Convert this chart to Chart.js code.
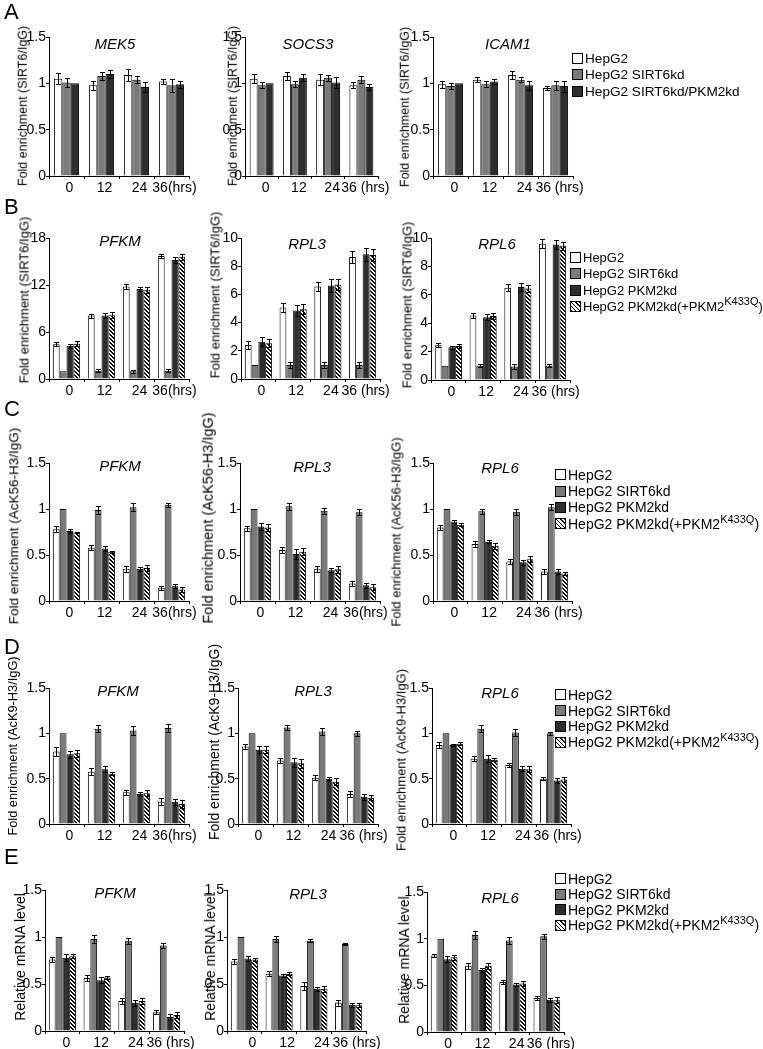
<!DOCTYPE html>
<html>
<head>
<meta charset="utf-8">
<script src="https://cdn.jsdelivr.net/npm/chart.js@4.4.1/dist/chart.umd.min.js"></script>
<style>
  html, body { margin: 0; padding: 0; background: #fff; }
  #fig { position: relative; width: 763px; height: 1049px; overflow: hidden;
         font-family: 'Liberation Sans', Arial, sans-serif; color: #000; }
  .cv { position: absolute; }
  .letter { position: absolute; font-size: 22px; line-height: 1; }
  .gene { position: absolute; font-style: italic; font-size: 15px; line-height: 1;
          transform: translate(-50%, -50%); white-space: nowrap; }
  .ytitle { position: absolute; line-height: 1; white-space: nowrap;
            transform: translate(-50%, -50%) rotate(-90deg); }
  .legend { position: absolute; }
  .legend .row { display: flex; align-items: center; white-space: nowrap; }
  .sw { width: 11px; height: 11px; border: 1px solid #000; box-sizing: border-box; margin-right: 2px; flex: none; }
  sup { font-size: 11px; line-height: 0; vertical-align: 6px; }
</style>
</head>
<body>
<div id="fig"></div>
<script>
// time points on the x axis
const timepoints = ['0', '12', '24', '36'];

const seriesA = ['HepG2', 'HepG2 SIRT6kd', 'HepG2 SIRT6kd/PKM2kd'];
const seriesBE = ['HepG2', 'HepG2 SIRT6kd', 'HepG2 PKM2kd', 'HepG2 PKM2kd(+PKM2<sup>K433Q</sup>)'];

// A: SIRT6 ChIP, control genes (HepG2, SIRT6kd, SIRT6kd/PKM2kd)
const mek5Mean = [[1.05, 0.98, 1.09, 1.02], [1.01, 1.08, 1.04, 0.98], [1.00, 1.10, 0.96, 0.99]];
const mek5Err  = [[0.06, 0.05, 0.06, 0.03], [0.05, 0.04, 0.04, 0.07], [0, 0.04, 0.05, 0.04]];
const socs3Mean = [[1.05, 1.08, 1.04, 0.98], [0.98, 0.99, 1.06, 1.04], [1.00, 1.06, 1.01, 0.96]];
const socs3Err  = [[0.05, 0.04, 0.06, 0.03], [0.03, 0.03, 0.03, 0.04], [0, 0.04, 0.06, 0.03]];
const icam1Mean = [[0.99, 1.04, 1.09, 0.95], [0.97, 0.99, 1.04, 0.98], [1.00, 1.02, 0.98, 0.97]];
const icam1Err  = [[0.04, 0.03, 0.04, 0.02], [0.03, 0.03, 0.03, 0.05], [0, 0.03, 0.05, 0.06]];

// B: SIRT6 ChIP
const bPfkmMean = [[4.45, 8.1, 11.8, 15.7], [1.0, 1.05, 1.0, 1.05], [4.2, 8.1, 11.5, 15.2], [4.5, 8.15, 11.4, 15.6]];
const bPfkmErr  = [[0.25, 0.25, 0.35, 0.25], [0, 0.2, 0.2, 0.2], [0.3, 0.35, 0.3, 0.35], [0.3, 0.4, 0.4, 0.4]];
const bRpl3Mean = [[2.42, 5.07, 6.56, 8.65], [1.0, 1.0, 1.0, 1.0], [2.65, 4.85, 6.63, 8.85], [2.54, 4.95, 6.7, 8.8]];
const bRpl3Err  = [[0.3, 0.3, 0.3, 0.4], [0, 0.2, 0.2, 0.2], [0.3, 0.4, 0.45, 0.45], [0.3, 0.35, 0.4, 0.4]];
const bRpl6Mean = [[2.45, 4.55, 6.5, 9.6], [1.0, 1.0, 0.95, 1.0], [2.3, 4.42, 6.55, 9.55], [2.4, 4.5, 6.45, 9.45]];
const bRpl6Err  = [[0.15, 0.2, 0.25, 0.3], [0, 0.1, 0.15, 0.1], [0.1, 0.2, 0.3, 0.3], [0.15, 0.2, 0.25, 0.3]];

// C: AcK56-H3 ChIP
const cPfkmMean = [[0.78, 0.58, 0.35, 0.145], [1.0, 0.99, 1.02, 1.045], [0.76, 0.57, 0.35, 0.16], [0.745, 0.535, 0.36, 0.125]];
const cPfkmErr  = [[0.03, 0.03, 0.03, 0.02], [0, 0.04, 0.04, 0.02], [0.02, 0.03, 0.02, 0.02], [0.01, 0.01, 0.03, 0.03]];
const cRpl3Mean = [[0.79, 0.555, 0.35, 0.19], [1.0, 1.03, 0.98, 0.965], [0.81, 0.51, 0.335, 0.17], [0.80, 0.535, 0.345, 0.15]];
const cRpl3Err  = [[0.03, 0.03, 0.03, 0.03], [0, 0.04, 0.03, 0.03], [0.04, 0.05, 0.02, 0.03], [0.04, 0.04, 0.04, 0.03]];
const cRpl6Mean = [[0.80, 0.62, 0.43, 0.32], [1.0, 0.975, 0.97, 1.02], [0.865, 0.645, 0.42, 0.32], [0.83, 0.60, 0.455, 0.30]];
const cRpl6Err  = [[0.03, 0.03, 0.03, 0.025], [0, 0.03, 0.03, 0.03], [0.015, 0.02, 0.03, 0.025], [0.02, 0.03, 0.03, 0.015]];

// D: AcK9-H3 ChIP
const dPfkmMean = [[0.80, 0.575, 0.35, 0.245], [1.0, 1.05, 1.03, 1.06], [0.77, 0.605, 0.33, 0.245], [0.78, 0.555, 0.34, 0.22]];
const dPfkmErr  = [[0.05, 0.04, 0.03, 0.04], [0, 0.04, 0.05, 0.04], [0.04, 0.03, 0.02, 0.03], [0.04, 0.02, 0.03, 0.04]];
const dRpl3Mean = [[0.855, 0.70, 0.51, 0.33], [1.0, 1.065, 1.02, 1.0], [0.82, 0.68, 0.50, 0.30], [0.82, 0.67, 0.465, 0.29]];
const dRpl3Err  = [[0.03, 0.03, 0.03, 0.03], [0, 0.03, 0.04, 0.03], [0.04, 0.05, 0.02, 0.03], [0.04, 0.05, 0.04, 0.03]];
const dRpl6Mean = [[0.87, 0.72, 0.65, 0.50], [1.0, 1.05, 1.01, 1.0], [0.87, 0.72, 0.61, 0.48], [0.885, 0.71, 0.605, 0.49]];
const dRpl6Err  = [[0.03, 0.03, 0.02, 0.015], [0, 0.04, 0.04, 0.02], [0.015, 0.04, 0.03, 0.03], [0.015, 0.015, 0.03, 0.025]];

// E: relative mRNA
const ePfkmMean = [[0.76, 0.565, 0.32, 0.20], [1.0, 0.98, 0.96, 0.91], [0.78, 0.54, 0.30, 0.15], [0.795, 0.57, 0.32, 0.17]];
const ePfkmErr  = [[0.03, 0.03, 0.03, 0.02], [0, 0.04, 0.03, 0.03], [0.04, 0.03, 0.03, 0.03], [0.02, 0.02, 0.03, 0.03]];
const eRpl3Mean = [[0.74, 0.61, 0.48, 0.30], [1.0, 0.98, 0.96, 0.925], [0.77, 0.59, 0.45, 0.28], [0.76, 0.61, 0.45, 0.275]];
const eRpl3Err  = [[0.03, 0.03, 0.04, 0.03], [0, 0.03, 0.015, 0.015], [0.03, 0.02, 0.02, 0.02], [0.02, 0.015, 0.03, 0.02]];
const eRpl6Mean = [[0.82, 0.71, 0.535, 0.365], [1.0, 1.04, 0.98, 1.025], [0.78, 0.665, 0.51, 0.345], [0.80, 0.71, 0.52, 0.34]];
const eRpl6Err  = [[0.02, 0.03, 0.02, 0.02], [0, 0.04, 0.04, 0.03], [0.03, 0.02, 0.02, 0.02], [0.03, 0.03, 0.03, 0.03]];

Chart.defaults.font.family = "'Liberation Sans', Arial, sans-serif";
Chart.defaults.font.size = 14;
Chart.defaults.color = '#000';

// hatch pattern for the K433Q rescue bars
function hatch() {
  const c = document.createElement('canvas');
  c.width = 4; c.height = 4;
  const g = c.getContext('2d');
  g.fillStyle = '#fff'; g.fillRect(0, 0, 4, 4);
  g.fillStyle = '#000';
  for (let i = 0; i < 4; i++) { g.fillRect(i, i, 1, 1); g.fillRect((i + 1) % 4, i, 1, 1); }
  return g.createPattern(c, 'repeat');
}
const fills = ['#ffffff', '#7a7a7a', '#2e2e2e', hatch()];

const errorBars = {
  id: 'errorBars',
  afterDatasetsDraw(chart) {
    const ctx = chart.ctx, y = chart.scales.y;
    ctx.save();
    ctx.strokeStyle = '#000';
    ctx.lineWidth = 1;
    chart.data.datasets.forEach((ds, i) => {
      chart.getDatasetMeta(i).data.forEach((bar, j) => {
        const e = ds.errors[j];
        if (!e) return;
        const v = ds.data[j];
        const x = Math.round(bar.x) + 0.5;
        const hi = Math.round(y.getPixelForValue(v + e)) + 0.5;
        const lo = Math.round(y.getPixelForValue(v - e)) + 0.5;
        ctx.beginPath();
        ctx.moveTo(x, hi); ctx.lineTo(x, lo);
        ctx.moveTo(x - 2.5, hi); ctx.lineTo(x + 2.5, hi);
        ctx.moveTo(x - 2.5, lo); ctx.lineTo(x + 2.5, lo);
        ctx.stroke();
      });
    });
    ctx.restore();
  }
};

const fig = document.getElementById('fig');

function addText(cls, text, x, y, size) {
  const d = document.createElement('div');
  d.className = cls;
  d.textContent = text;
  d.style.left = x + 'px';
  d.style.top = y + 'px';
  if (size) d.style.fontSize = size + 'px';
  fig.appendChild(d);
}

function makeChart(p) {
  const PT = 20, PB = 30, PR = 40;
  const W = 32;
  const left = p.ax - W;
  const cw = W + (p.ar - p.ax) + PR;
  const ch = PT + (p.y0 - p.yt) + PB;
  const cv = document.createElement('canvas');
  cv.className = 'cv';
  cv.width = cw; cv.height = ch;
  cv.style.left = left + 'px';
  cv.style.top = (p.yt - PT) + 'px';
  cv.style.width = cw + 'px';
  cv.style.height = ch + 'px';
  fig.appendChild(cv);

  const labels = timepoints.slice(0, 3).concat([p.last]);
  new Chart(cv, {
    type: 'bar',
    data: {
      labels,
      datasets: p.mean.map((d, i) => ({
        label: p.series[i].replace(/<\/?sup>/g, ''),
        data: d,
        errors: p.err[i],
        backgroundColor: fills[i],
        borderColor: '#000',
        borderWidth: 1,
        barPercentage: 1,
        categoryPercentage: p.cp
      }))
    },
    options: {
      responsive: false,
      animation: false,
      events: [],
      layout: { padding: { top: PT, right: PR, left: 0, bottom: 0 } },
      plugins: { legend: { display: false }, tooltip: { enabled: false } },
      scales: {
        x: {
          afterFit: s => { s.height = PB; },
          grid: { drawOnChartArea: false, tickLength: 3, color: '#000' },
          border: { color: '#000' },
          ticks: { padding: 1, maxRotation: 0, minRotation: 0, autoSkip: false, labelOffset: p.lo || 0 }
        },
        y: {
          min: 0, max: p.max,
          afterFit: s => { s.width = W; },
          grid: { drawOnChartArea: false, tickLength: 3, color: '#000' },
          border: { color: '#000' },
          ticks: { stepSize: p.step, padding: 0, callback: v => String(+v.toFixed(2)) }
        }
      }
    },
    plugins: [errorBars]
  });

  addText('gene', p.gene, p.gx, p.gy);
  addText('ytitle', p.ytitle, p.tx, p.ty, p.ts);
}

function makeLegend(series, x, y, step, size) {
  const box = document.createElement('div');
  box.className = 'legend';
  box.style.left = x + 'px';
  box.style.top = (y - step / 2) + 'px';
  box.style.fontSize = size + 'px';
  series.forEach((s, i) => {
    const r = document.createElement('div');
    r.className = 'row';
    r.style.height = step + 'px';
    const sw = document.createElement('span');
    sw.className = 'sw';
    sw.style.background = i === 3
      ? 'repeating-linear-gradient(45deg, #000 0 1px, #fff 1px 3px)'
      : fills[i];
    const t = document.createElement('span');
    t.innerHTML = s;
    r.appendChild(sw); r.appendChild(t);
    box.appendChild(r);
  });
  fig.appendChild(box);
}

const yA = 'Fold enrichment (SIRT6/IgG)';
const yC = 'Fold enrichment (AcK56-H3/IgG)';
const yD = 'Fold enrichment (AcK9-H3/IgG)';
const yE = 'Relative mRNA level';

// panel A
makeChart({ ax: 49, ar: 189, yt: 37, y0: 176, max: 1.5, step: 0.5, cp: 0.72, last: '36(hrs)', lo: 3,
  ytitle: yA, tx: 23, ty: 106, ts: 12.5,
  gene: 'MEK5', gx: 115, gy: 43, series: seriesA, mean: mek5Mean, err: mek5Err });
makeChart({ ax: 245, ar: 378, yt: 37, y0: 176, max: 1.5, step: 0.5, cp: 0.72, last: '36 (hrs)', lo: 4,
  ytitle: yA, tx: 233, ty: 106, ts: 12.5,
  gene: 'SOCS3', gx: 308, gy: 43, series: seriesA, mean: socs3Mean, err: socs3Err });
makeChart({ ax: 433, ar: 573, yt: 37, y0: 176, max: 1.5, step: 0.5, cp: 0.72, last: '36 (hrs)', lo: 4,
  ytitle: yA, tx: 405, ty: 107, ts: 12.5,
  gene: 'ICAM1', gx: 508, gy: 43, series: seriesA, mean: icam1Mean, err: icam1Err });

// panel B
makeChart({ ax: 49, ar: 189, yt: 238, y0: 379, max: 18, step: 6, cp: 0.78, last: '36(hrs)', lo: 3,
  ytitle: yA, tx: 24, ty: 300, ts: 13,
  gene: 'PFKM', gx: 120, gy: 240, series: seriesBE, mean: bPfkmMean, err: bPfkmErr });
makeChart({ ax: 241, ar: 380, yt: 238, y0: 379, max: 10, step: 2, cp: 0.78, last: '36 (hrs)', lo: 3,
  ytitle: yA, tx: 215, ty: 295, ts: 13,
  gene: 'RPL3', gx: 307, gy: 243, series: seriesBE, mean: bRpl3Mean, err: bRpl3Err });
makeChart({ ax: 431, ar: 570, yt: 238, y0: 380, max: 10, step: 2, cp: 0.78, last: '36 (hrs)', lo: 3,
  ytitle: yA, tx: 407, ty: 305, ts: 13,
  gene: 'RPL6', gx: 497, gy: 243, series: seriesBE, mean: bRpl6Mean, err: bRpl6Err });

// panel C
makeChart({ ax: 49, ar: 189, yt: 463, y0: 601, max: 1.5, step: 0.5, cp: 0.78, last: '36(hrs)', lo: 3,
  ytitle: yC, tx: 14, ty: 526, ts: 13.5,
  gene: 'PFKM', gx: 120, gy: 465, series: seriesBE, mean: cPfkmMean, err: cPfkmErr });
makeChart({ ax: 240, ar: 380, yt: 463, y0: 601, max: 1.5, step: 0.5, cp: 0.78, last: '36(hrs)', lo: 3,
  ytitle: yC, tx: 208, ty: 518, ts: 14.5,
  gene: 'RPL3', gx: 312, gy: 466, series: seriesBE, mean: cRpl3Mean, err: cRpl3Err });
makeChart({ ax: 433, ar: 572, yt: 463, y0: 601, max: 1.5, step: 0.5, cp: 0.78, last: '36 (hrs)', lo: 4,
  ytitle: yC, tx: 396, ty: 532, ts: 13,
  gene: 'RPL6', gx: 500, gy: 467, series: seriesBE, mean: cRpl6Mean, err: cRpl6Err });

// panel D
makeChart({ ax: 49, ar: 189, yt: 688, y0: 824, max: 1.5, step: 0.5, cp: 0.78, last: '36(hrs)', lo: 3,
  ytitle: yD, tx: 13, ty: 746, ts: 12.8,
  gene: 'PFKM', gx: 118, gy: 690, series: seriesBE, mean: dPfkmMean, err: dPfkmErr });
makeChart({ ax: 238, ar: 378, yt: 688, y0: 824, max: 1.5, step: 0.5, cp: 0.78, last: '36 (hrs)', lo: 3,
  ytitle: yD, tx: 214, ty: 742, ts: 14,
  gene: 'RPL3', gx: 313, gy: 690, series: seriesBE, mean: dRpl3Mean, err: dRpl3Err });
makeChart({ ax: 432, ar: 571, yt: 688, y0: 824, max: 1.5, step: 0.5, cp: 0.78, last: '36 (hrs)', lo: 4,
  ytitle: yD, tx: 401, ty: 760, ts: 13,
  gene: 'RPL6', gx: 500, gy: 692, series: seriesBE, mean: dRpl6Mean, err: dRpl6Err });

// panel E
makeChart({ ax: 45, ar: 184, yt: 890, y0: 1031, max: 1.5, step: 0.5, cp: 0.78, last: '36 (hrs)', lo: 4,
  ytitle: yE, tx: 20, ty: 957, ts: 14,
  gene: 'PFKM', gx: 115, gy: 892, series: seriesBE, mean: ePfkmMean, err: ePfkmErr });
makeChart({ ax: 227, ar: 366, yt: 890, y0: 1031, max: 1.5, step: 0.5, cp: 0.78, last: '36 (hrs)', lo: 8,
  ytitle: yE, tx: 210, ty: 957, ts: 14,
  gene: 'RPL3', gx: 308, gy: 893, series: seriesBE, mean: eRpl3Mean, err: eRpl3Err });
makeChart({ ax: 427, ar: 564, yt: 892, y0: 1032, max: 1.5, step: 0.5, cp: 0.78, last: '36 (hrs)', lo: 4,
  ytitle: yE, tx: 404, ty: 960, ts: 14,
  gene: 'RPL6', gx: 500, gy: 897, series: seriesBE, mean: eRpl6Mean, err: eRpl6Err });

makeLegend(seriesA, 572, 58, 16.5, 13.6);
makeLegend(seriesBE, 570, 257, 16.5, 13);
makeLegend(seriesBE, 555, 475, 16.2, 14);
makeLegend(seriesBE, 555, 695, 15.7, 14);
makeLegend(seriesBE, 555, 879, 15.4, 14);

addText('letter', 'A', 4, 1);
addText('letter', 'B', 4, 196);
addText('letter', 'C', 4, 398);
addText('letter', 'D', 4, 636);
addText('letter', 'E', 4, 846);
</script>
</body>
</html>
